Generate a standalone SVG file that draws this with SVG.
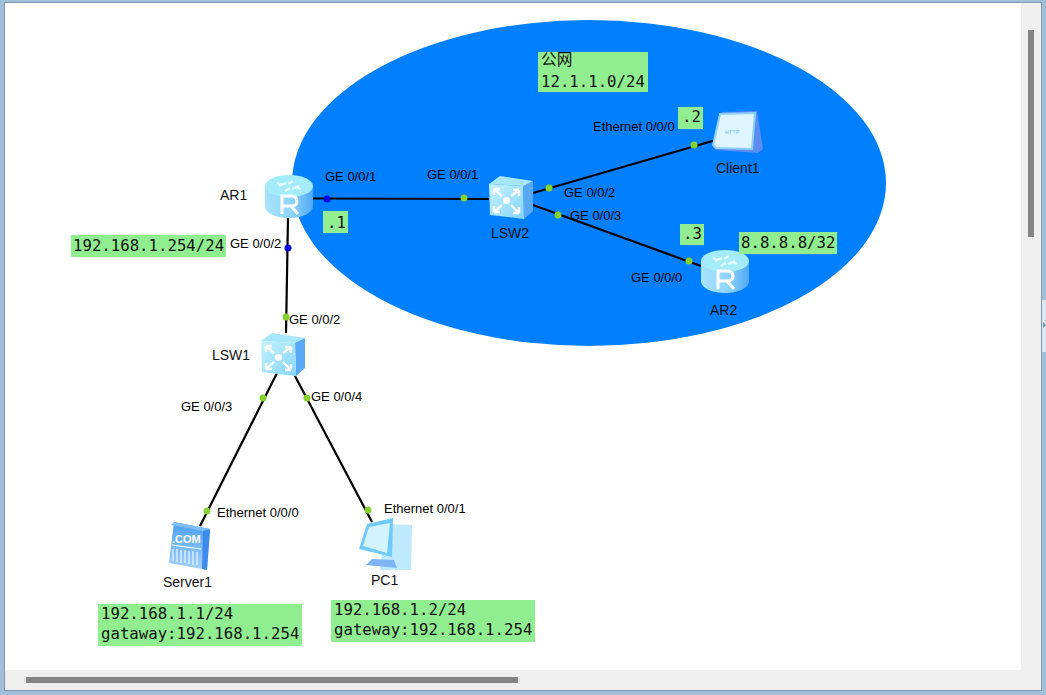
<svg xmlns="http://www.w3.org/2000/svg" xmlns:xlink="http://www.w3.org/1999/xlink" width="1046" height="695" viewBox="0 0 1046 695">
<style>
.name{font:14px "Liberation Sans",Arial,sans-serif;fill:#111}
.port{font:13px "Liberation Sans",Arial,sans-serif;fill:#000}
.mono{font:15.7px "DejaVu Sans Mono","Noto Sans CJK SC",monospace;fill:#111}
.box{fill:#90ee90}
.link{stroke:#000;stroke-width:2.2;fill:none}
.gd{fill:#86d130}
.bd{fill:#0000e6}
</style>
<defs>
<linearGradient id="rs" x1="0" x2="1" y1="0" y2="0"><stop offset="0" stop-color="#a8e4fb"/><stop offset=".55" stop-color="#8fd4fa"/><stop offset="1" stop-color="#4fa8f5"/></linearGradient>
<linearGradient id="sw" x1="0" x2="1" y1="0" y2="1"><stop offset="0" stop-color="#c4f1fd"/><stop offset="1" stop-color="#84d6fa"/></linearGradient>
<linearGradient id="sv" x1="0" x2="0" y1="0" y2="1"><stop offset="0" stop-color="#4a9ff2"/><stop offset="1" stop-color="#a5d2fb"/></linearGradient>
<g id="router">
<path d="M0 10V31C0 38 11 43 24 43S48 38 48 31V10Z" fill="url(#rs)"/>
<ellipse cx="24" cy="11" rx="24" ry="11" fill="#a5ecfb"/>
<path d="M14 11l7-3M34 11l-7 3M20 16l5-3M28 6l-5 3M12 8l5 2M36 14l-5-2" stroke="#e6fbff" stroke-width="2.2" fill="none"/>
<path d="M17 39V21H25.500Q32 21 32 26T26 31L33 39M17 31H26" stroke="#fff" stroke-width="3" fill="none"/>
</g>
<g id="switch">
<path d="M34 9L44 5V35L35 43Z" fill="#5aa9f7"/>
<path d="M0 8L11 0L44 5L34 10Z" fill="#a8e6fb"/>
<path d="M0 8L34 10L35 43L1 39Z" fill="url(#sw)"/>
<circle cx="17.500" cy="24.500" r="3.500" fill="#fff"/>
<path d="M5 13L13 20M5 13v6M5 13h6M30 14L22 20M30 14v6M30 14h-6M5 36L13 29M5 36v-6M5 36h6M30 37L22 29M30 37v-6M30 37h-6" stroke="#fff" stroke-width="2.400" fill="none"/>
</g>
</defs>

<rect width="1046" height="695" fill="#a1bfd9"/>
<rect x="4.500" y="2.500" width="1037" height="688" fill="#efefef" stroke="#7f9ab0"/>
<rect x="5" y="3" width="1016" height="667" fill="#fff"/>
<rect x="1028" y="30" width="6" height="207" fill="#858585"/>
<rect x="26" y="677" width="492" height="6" fill="#858585"/>
<rect x="1042" y="300" width="4" height="52" fill="#dbe7f1"/>
<path d="M1043 322l3 3l-3 3z" fill="#6f8fa8"/>

<ellipse id="public-net" cx="589" cy="183" rx="297" ry="163" fill="#007fff"/>

<g id="connectors">
<path class="link" d="M313 198.500L489 199"/>
<path class="link" d="M288 218L286 333"/>
<path class="link" d="M533 193L716 140"/>
<path class="link" d="M533 205L701 266"/>
<path class="link" d="M277 373L200 526"/>
<path class="link" d="M295 376L372 522"/>
<circle class="bd" cx="327" cy="199" r="3.500"/>
<circle class="bd" cx="288" cy="248" r="3.500"/>
<circle class="gd" cx="464" cy="198" r="3.500"/>
<circle class="gd" cx="549" cy="188" r="3.500"/>
<circle class="gd" cx="694" cy="145" r="3.500"/>
<circle class="gd" cx="558" cy="215" r="3.500"/>
<circle class="gd" cx="689" cy="261" r="3.500"/>
<circle class="gd" cx="286" cy="317" r="3.500"/>
<circle class="gd" cx="263" cy="398" r="3.500"/>
<circle class="gd" cx="307" cy="398" r="3.500"/>
<circle class="gd" cx="207" cy="511" r="3.500"/>
<circle class="gd" cx="368" cy="510" r="3.500"/>
</g>

<g id="AR1"><use xlink:href="#router" href="#router" x="265" y="175"/><text class="name" x="220" y="200">AR1</text></g>
<g id="AR2"><use xlink:href="#router" href="#router" x="701" y="250"/><text class="name" x="710" y="315">AR2</text></g>
<g id="LSW2"><use xlink:href="#switch" href="#switch" x="489" y="176"/><text class="name" x="491" y="238">LSW2</text></g>
<g id="LSW1"><use xlink:href="#switch" href="#switch" x="261" y="333"/><text class="name" x="212" y="360">LSW1</text></g>
<g id="Client1">
<path d="M713 146L722 112L757 111L763 149L758 153L715 150Z" fill="#5c8df0"/>
<path d="M713 145L720 114L755 113L752 149L716 148Z" fill="#dff5ff" stroke="#8cd0fb" stroke-width="2"/>
<text x="725" y="134" style="font:6px 'Liberation Mono',monospace;fill:#6fc8f5">HTTP</text>
<text class="name" x="716" y="173">Client1</text>
</g>
<g id="Server1">
<path d="M174 522L210 529L207 570L202 569L169 563Z" fill="url(#sv)"/>
<path d="M203 528L210 530L207 570L202 569Z" fill="#3d8cec"/>
<path d="M174 522L210 529L203 531L171 525Z" fill="#7fbdf8"/>
<text x="172" y="543" style="font:bold 11px 'Liberation Sans',sans-serif;fill:#fff">.COM</text>
<path d="M173 549V561M177 549V562M181 550V563M185 550V563M189 551V564M193 551V565M197 552V565M172 545L201 549" stroke="#fff" stroke-width="1" fill="none"/>
<text class="name" x="163" y="587">Server1</text>
</g>
<g id="PC1">
<path d="M385 524L412 525L411 570L380 570Z" fill="#bfe9fc"/>
<path d="M367 524L393 518L392 557L359 549Z" fill="#6fc9fa"/>
<path d="M369 527L390 523L387 553L363 546Z" fill="#d3f3fe"/>
<path d="M372 559L394 560L397 568L366 565Z" fill="#7fb4f7"/>
<text class="name" x="371" y="585">PC1</text>
</g>

<g id="labels">
<text class="port" x="325" y="181">GE 0/0/1</text>
<text class="port" x="427" y="179">GE 0/0/1</text>
<text class="port" x="564" y="197">GE 0/0/2</text>
<text class="port" x="570" y="220">GE 0/0/3</text>
<text class="port" x="593" y="131">Ethernet 0/0/0</text>
<text class="port" x="631" y="282">GE 0/0/0</text>
<text class="port" x="230" y="248">GE 0/0/2</text>
<text class="port" x="289" y="324">GE 0/0/2</text>
<text class="port" x="181" y="411">GE 0/0/3</text>
<text class="port" x="311" y="401">GE 0/0/4</text>
<text class="port" x="217" y="517">Ethernet 0/0/0</text>
<text class="port" x="384" y="513">Ethernet 0/0/1</text>
</g>

<g id="notes">
<rect class="box" x="538" y="52" width="110" height="40"/>
<text class="mono" x="541" y="65">公网</text><text class="mono" x="541" y="87">12.1.1.0/24</text>
<rect class="box" x="323" y="211" width="25" height="22"/><text class="mono" x="327" y="228">.1</text>
<rect class="box" x="678" y="107" width="25" height="22"/><text class="mono" x="682" y="122">.2</text>
<rect class="box" x="680" y="224" width="24" height="21"/><text class="mono" x="683" y="239">.3</text>
<rect class="box" x="739" y="232" width="98" height="22"/><text class="mono" x="741" y="248">8.8.8.8/32</text>
<rect class="box" x="71" y="235" width="155" height="22"/><text class="mono" x="73" y="251">192.168.1.254/24</text>
<rect class="box" x="98" y="604" width="204" height="42"/><text class="mono" x="101" y="619">192.168.1.1/24</text><text class="mono" x="101" y="639">gataway:192.168.1.254</text>
<rect class="box" x="331" y="600" width="204" height="42"/><text class="mono" x="334" y="615">192.168.1.2/24</text><text class="mono" x="334" y="635">gateway:192.168.1.254</text>
</g>
</svg>
